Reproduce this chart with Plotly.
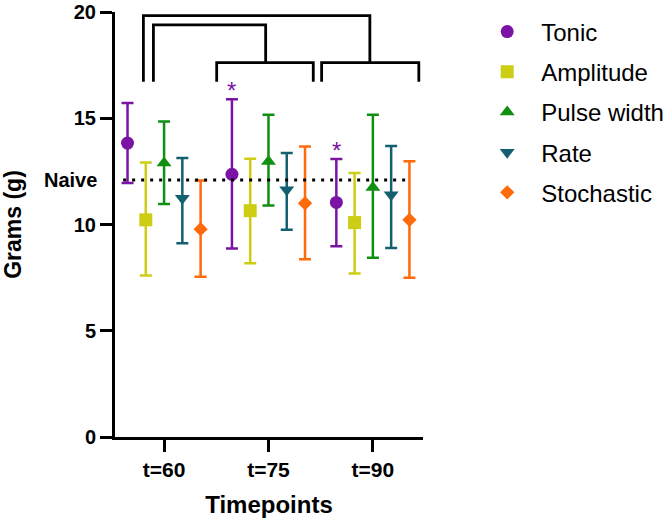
import plotly.graph_objects as go

# ---- data ----
timepoints = ["t=60", "t=75", "t=90"]
series_names = ["Tonic", "Amplitude", "Pulse width", "Rate", "Stochastic"]

tonic_mean = [13.83, 12.36, 11.04]
tonic_hi = [15.72, 15.90, 13.08]
tonic_lo = [11.95, 8.87, 8.98]

amp_mean = [10.22, 10.65, 10.09]
amp_hi = [12.92, 13.10, 12.42]
amp_lo = [7.60, 8.18, 7.69]

pw_mean = [12.89, 12.97, 11.74]
pw_hi = [14.85, 15.17, 15.17]
pw_lo = [10.96, 10.90, 8.43]

rate_mean = [11.24, 11.63, 11.40]
rate_hi = [13.13, 13.36, 13.70]
rate_lo = [9.12, 9.75, 8.89]

stoch_mean = [9.78, 11.00, 10.22]
stoch_hi = [12.07, 13.67, 12.98]
stoch_lo = [7.54, 8.37, 7.50]

naive_value = 12.1
star_flags = [False, True, True]  # significance markers for Tonic

means = [tonic_mean, amp_mean, pw_mean, rate_mean, stoch_mean]
his = [tonic_hi, amp_hi, pw_hi, rate_hi, stoch_hi]
los = [tonic_lo, amp_lo, pw_lo, rate_lo, stoch_lo]

# ---- styling ----
colors = ["#7b14a4", "#cdcd14", "#109010", "#145f70", "#ff6a0a"]
symbols = ["circle", "square", "triangle-up", "triangle-down", "diamond"]
sizes = [13, 13, 13, 13, 11]
offsets = [-0.35, -0.175, 0.0, 0.175, 0.35]
FONT = "Arial, Liberation Sans, sans-serif"

fig = go.Figure()
base_x = list(range(len(timepoints)))
for i, name in enumerate(series_names):
    xs = [b + offsets[i] for b in base_x]
    m = means[i]
    fig.add_trace(go.Scatter(
        x=xs, y=m, mode="markers", name=name, legendgroup=name,
        marker=dict(symbol=symbols[i], size=sizes[i], color=colors[i], line=dict(width=0)),
        error_y=dict(type="data", symmetric=False,
                     array=[h - v for h, v in zip(his[i], m)],
                     arrayminus=[v - l for l, v in zip(los[i], m)],
                     color=colors[i], thickness=2.5, width=6),
    ))

# naive reference line
fig.add_trace(go.Scatter(
    x=[-0.392, 2.325], y=[naive_value, naive_value], mode="lines",
    line=dict(color="black", width=3, dash="3px,6px"),
    showlegend=False, hoverinfo="skip"))

# asterisks
for j, flag in enumerate(star_flags):
    if flag:
        fig.add_annotation(x=base_x[j] + offsets[0], y=tonic_hi[j], xref="x", yref="y",
                           text="*", showarrow=False, yanchor="bottom", yshift=-7,
                           font=dict(family=FONT, size=24, color=colors[0]))

# Naive label
fig.add_annotation(x=0, y=naive_value, xref="paper", yref="y", text="<b>Naive</b>",
                   showarrow=False, xanchor="right", yanchor="middle", xshift=-16,
                   font=dict(family=FONT, size=20, color="black"))

# brackets (group brackets + connecting brackets)
group_brackets = [(0.504, 1.429, 0.973), (1.509, 2.44, 1.971)]
leg_y, bar_y = 16.72, 17.62
for x0, x1, xc in group_brackets:
    fig.add_shape(type="path", xref="x", yref="y",
                  path=f"M {x0},{leg_y} L {x0},{bar_y} L {x1},{bar_y} L {x1},{leg_y}",
                  line=dict(color="black", width=2.8))
connectors = [(-0.102, 19.39, 0.973), (-0.198, 19.83, 1.971)]
for xs0, ytop, xc in connectors:
    fig.add_shape(type="path", xref="x", yref="y",
                  path=f"M {xs0},{leg_y} L {xs0},{ytop} L {xc},{ytop} L {xc},{bar_y}",
                  line=dict(color="black", width=2.8))

fig.update_layout(
    width=672, height=520,
    margin=dict(l=115, r=249, t=12, b=83, autoexpand=False),
    plot_bgcolor="white", paper_bgcolor="white",
    font=dict(family=FONT, color="black"),
    showlegend=True,
    legend=dict(x=1.163, y=1.006, xanchor="left", yanchor="top",
                font=dict(family=FONT, size=24, color="black"),
                tracegroupgap=6, itemsizing="trace", itemwidth=58),
    xaxis=dict(range=[-0.47, 2.48], tickvals=base_x, ticktext=timepoints,
               showline=True, linecolor="black", linewidth=3,
               ticks="outside", ticklen=12, tickwidth=3, tickcolor="black",
               showgrid=False, zeroline=False, automargin=False,
               tickfont=dict(family=FONT, size=21, weight="bold"),
               title=dict(text="<b>Timepoints</b>", font=dict(family=FONT, size=24), standoff=16)),
    yaxis=dict(range=[0, 20], tickvals=[0, 5, 10, 15, 20],
               showline=True, linecolor="black", linewidth=3,
               ticks="outside", ticklen=12, tickwidth=3, tickcolor="black",
               showgrid=False, zeroline=False, automargin=False,
               tickfont=dict(family=FONT, size=20, weight="bold"),
               title=dict(text="<b>Grams (g)</b>", font=dict(family=FONT, size=23), standoff=46)),
)

fig.write_html("out.html")
